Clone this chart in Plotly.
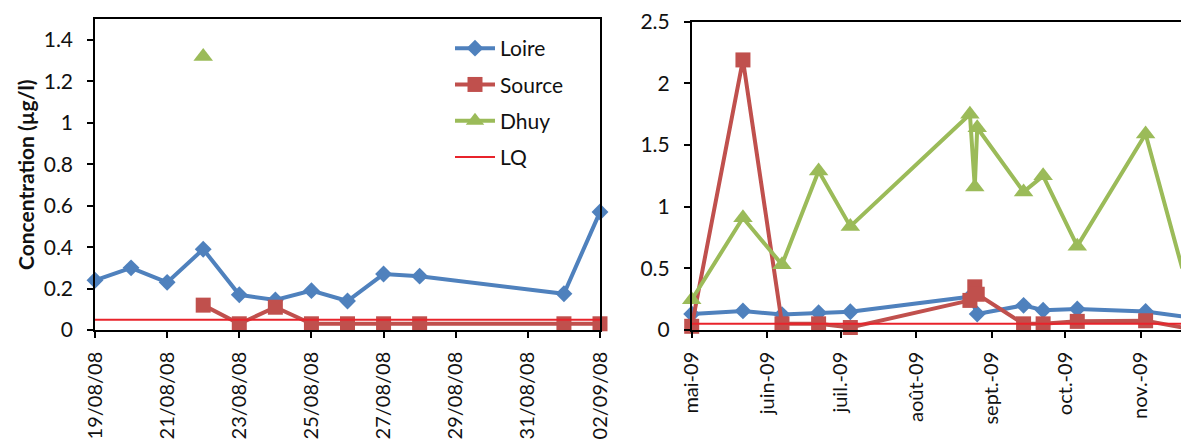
import plotly.graph_objects as go

# ---------------- Data: left panel (Aug-Sep 2008) ----------------
loire1_dates = ["2008-08-19", "2008-08-20", "2008-08-21", "2008-08-22", "2008-08-23", "2008-08-24",
                "2008-08-25", "2008-08-26", "2008-08-27", "2008-08-28", "2008-09-01", "2008-09-02"]
loire1_vals = [0.24, 0.30, 0.23, 0.39, 0.17, 0.145, 0.19, 0.14, 0.27, 0.26, 0.175, 0.57]

source1_dates = ["2008-08-22", "2008-08-23", "2008-08-24", "2008-08-25", "2008-08-26",
                 "2008-08-27", "2008-08-28", "2008-09-01", "2008-09-02"]
source1_vals = [0.12, 0.03, 0.11, 0.03, 0.03, 0.03, 0.03, 0.03, 0.03]

dhuy1_dates = ["2008-08-22"]
dhuy1_vals = [1.32]

lq1_dates = ["2008-08-19", "2008-09-02"]
lq1_vals = [0.05, 0.05]

# ---------------- Data: right panel (2009) ----------------
loire2_dates = ["2009-05-01", "2009-05-22", "2009-06-07", "2009-06-22", "2009-07-05", "2009-08-23",
                "2009-08-26", "2009-09-14", "2009-09-22", "2009-10-06", "2009-11-03", "2009-11-18"]
loire2_vals = [0.13, 0.155, 0.125, 0.14, 0.148, 0.27, 0.13, 0.20, 0.16, 0.17, 0.15, 0.11]

source2_dates = ["2009-05-01", "2009-05-22", "2009-06-07", "2009-06-22", "2009-07-05", "2009-08-23",
                 "2009-08-25", "2009-08-26", "2009-09-14", "2009-09-22", "2009-10-06", "2009-11-03",
                 "2009-11-18"]
source2_vals = [0.03, 2.19, 0.05, 0.05, 0.02, 0.24, 0.35, 0.29, 0.05, 0.05, 0.07, 0.075, 0.02]

dhuy2_dates = ["2009-05-01", "2009-05-22", "2009-06-07", "2009-06-22", "2009-07-05", "2009-08-23",
               "2009-08-25", "2009-08-26", "2009-09-14", "2009-09-22", "2009-10-06", "2009-11-03",
               "2009-11-18"]
dhuy2_vals = [0.245, 0.91, 0.53, 1.29, 0.84, 1.75, 1.16, 1.64, 1.12, 1.25, 0.68, 1.59, 0.50]

lq2_dates = ["2009-05-01", "2009-11-30"]
lq2_vals = [0.05, 0.05]

month_ticks = ["2009-05-01", "2009-06-01", "2009-07-01", "2009-08-01", "2009-09-01", "2009-10-01", "2009-11-01"]
month_labels = ["mai-09", "juin-09", "juil.-09", "août-09", "sept.-09", "oct.-09", "nov.-09"]

series_names = ["Loire", "Source", "Dhuy", "LQ"]

# ---------------- Styles ----------------
BLUE = "#4F81BD"
RED = "#C0504D"
GREEN = "#9BBB59"
LQRED = "#E8232B"
FONT = "Lato"
W, H = 1181, 439


def px_x(x):
    return x / W


def px_y(y):
    return (H - y) / H


fig = go.Figure()


def add_set(xa, ya, loire, source, dhuy, lq, show):
    fig.add_trace(go.Scatter(x=loire[0], y=loire[1], name=series_names[0], mode="lines+markers",
                             line=dict(color=BLUE, width=4),
                             marker=dict(symbol="diamond", size=13, color=BLUE),
                             xaxis=xa, yaxis=ya, showlegend=show, legendgroup="a", cliponaxis=False))
    fig.add_trace(go.Scatter(x=source[0], y=source[1], name=series_names[1], mode="lines+markers",
                             line=dict(color=RED, width=4),
                             marker=dict(symbol="square", size=15, color=RED),
                             xaxis=xa, yaxis=ya, showlegend=show, legendgroup="b", cliponaxis=False))
    fig.add_trace(go.Scatter(x=dhuy[0], y=dhuy[1], name=series_names[2], mode="lines+markers",
                             line=dict(color=GREEN, width=4),
                             marker=dict(symbol="triangle-up", size=17, color=GREEN),
                             xaxis=xa, yaxis=ya, showlegend=show, legendgroup="c", cliponaxis=False))
    fig.add_trace(go.Scatter(x=lq[0], y=lq[1], name=series_names[3], mode="lines",
                             line=dict(color=LQRED, width=2),
                             xaxis=xa, yaxis=ya, showlegend=show, legendgroup="d"))


add_set("x", "y", (loire1_dates, loire1_vals), (source1_dates, source1_vals),
        (dhuy1_dates, dhuy1_vals), (lq1_dates, lq1_vals), True)
add_set("x2", "y2", (loire2_dates, loire2_vals), (source2_dates, source2_vals),
        (dhuy2_dates, dhuy2_vals), (lq2_dates, lq2_vals), False)

axis_common = dict(showline=True, linecolor="black", linewidth=1.5, showgrid=False, zeroline=False,
                   ticks="outside", ticklen=6, tickwidth=1.5, tickcolor="black", automargin=False)

yfont = dict(family=FONT, size=21, color="#111111")
xfont = dict(family=FONT, size=20, color="#111111")

fig.update_layout(
    width=W, height=H,
    margin=dict(l=0, r=0, t=0, b=0, autoexpand=False),
    paper_bgcolor="white", plot_bgcolor="white",
    font=dict(family=FONT, size=21, color="#111111"),
    xaxis=dict(domain=[px_x(95), px_x(600)], anchor="y", type="date",
               range=["2008-08-19", "2008-09-02"], tick0="2008-08-19", dtick=2 * 86400000,
               tickformat="%d/%m/%y", tickangle=-90, mirror=True, ticklabelstandoff=6,
               tickfont=xfont, **axis_common),
    yaxis=dict(domain=[px_y(330), px_y(19.3)], anchor="x", range=[0, 1.5],
               tickvals=[0, 0.2, 0.4, 0.6, 0.8, 1.0, 1.2, 1.4],
               ticktext=["0", "0.2", "0.4", "0.6", "0.8", "1", "1.2", "1.4"],
               mirror=True, ticklabelstandoff=10, tickfont=yfont, **axis_common),
    xaxis2=dict(domain=[px_x(691.7), 1.0], anchor="y2", type="date",
                range=["2009-05-01", "2009-11-17 12:00"],
                tickvals=month_ticks, ticktext=month_labels, tickangle=-90, mirror=True,
                ticklabelstandoff=6, tickfont=xfont, **axis_common),
    yaxis2=dict(domain=[px_y(330), px_y(21.7)], anchor="x2", range=[0, 2.5],
                tickvals=[0, 0.5, 1, 1.5, 2, 2.5], ticktext=["0", "0.5", "1", "1.5", "2", "2.5"],
                mirror=False, ticklabelstandoff=10, tickfont=yfont, **axis_common),
    legend=dict(x=px_x(450), y=px_y(28), xanchor="left", yanchor="top",
                bgcolor="rgba(0,0,0,0)", font=dict(family=FONT, size=21, color="#111111"),
                itemwidth=40, tracegroupgap=6),
    annotations=[dict(text="<b>Concentration (µg/l)</b>", x=px_x(25), y=px_y(175),
                      xref="paper", yref="paper", xanchor="center", yanchor="middle",
                      textangle=-90, showarrow=False,
                      font=dict(family=FONT, size=21, color="#111111"))],
)

fig.write_html("out.html", config={"displayModeBar": False},
               post_script="document.body.style.margin='0';document.body.style.overflow='hidden';")
